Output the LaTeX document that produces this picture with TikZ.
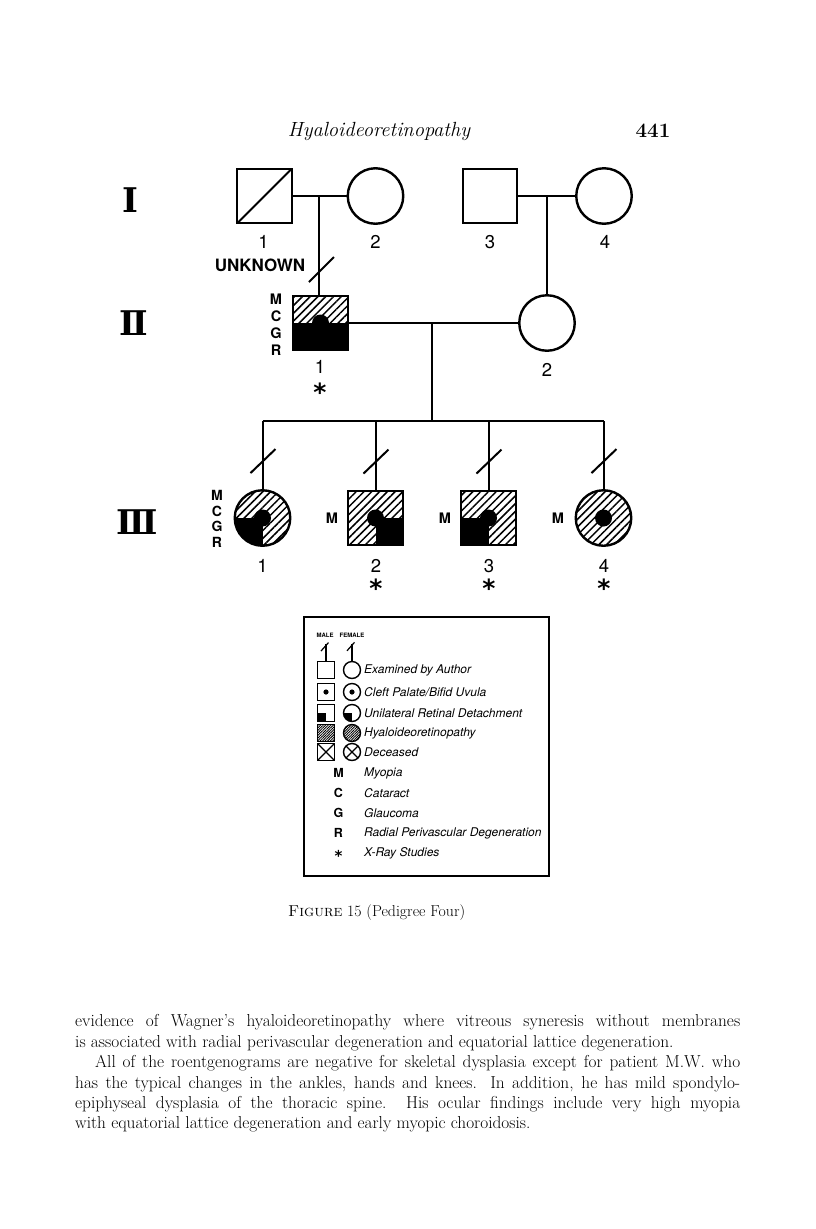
\documentclass[tikz,border=0pt]{standalone}
\usepackage{fontspec}
\setsansfont{TeX Gyre Heros}
\newfontfamily\numfont{DejaVu Serif}
\newfontfamily\starfont{DejaVu Sans}
\usetikzlibrary{patterns.meta,calc,positioning}

% pieces drawn inside a symbol
\newcommand{\hatchpp}{\fill[pattern={Lines[angle=45, distance=5.5pt, line width=1.5pt]}]
  (path picture bounding box.south west) rectangle (path picture bounding box.north east);}
\newcommand{\dotpp}{\fill[black] (path picture bounding box.center) circle (8.5pt);}
\newcommand{\halfpp}{\fill[black] (path picture bounding box.west) rectangle (path picture bounding box.south east);}
\newcommand{\leftpp}{\fill[black] (path picture bounding box.center) rectangle (path picture bounding box.south west);}
\newcommand{\rightpp}{\fill[black] (path picture bounding box.center) rectangle (path picture bounding box.south east);}

\tikzset{
  male/.style={draw, line width=2.4pt, minimum size=54.5pt, inner sep=0pt},
  female/.style={draw, circle, line width=2.4pt, minimum size=55.5pt, inner sep=0pt},
  hatch/.style={path picture={\hatchpp #1}},
  hatch/.default={},
  deadline/.style={path picture={\draw[line width=2pt] (path picture bounding box.south west) -- (path picture bounding box.north east);}},
  pedline/.style={line width=2pt},
  pednum/.style={font=\sffamily\fontsize{18.5}{18.5}\selectfont, inner sep=0pt},
  trait/.style={font=\sffamily\bfseries\fontsize{14.5}{17}\selectfont, inner sep=0pt, align=center},
  star/.style={font=\starfont\bfseries\fontsize{25}{25}\selectfont, inner sep=0pt},
  genno/.style={font=\numfont\bfseries\fontsize{34}{34}\selectfont, inner sep=0pt},
  % legend
  lmale/.style={draw, line width=1.4pt, minimum size=16.5pt, inner sep=0pt},
  lfemale/.style={draw, circle, line width=1.4pt, minimum size=17pt, inner sep=0pt},
  ldot/.style={path picture={\fill (path picture bounding box.center) circle (2.6pt);}},
  lquad/.style={path picture={\fill (path picture bounding box.center) rectangle (path picture bounding box.south west);}},
  lhatch/.style={pattern={Lines[angle=45, distance=1.8pt, line width=0.9pt]}},
  lcross/.style={path picture={\draw[line width=1.2pt] (path picture bounding box.south west) -- (path picture bounding box.north east)
      (path picture bounding box.north west) -- (path picture bounding box.south east);}},
  ltext/.style={font=\sffamily\itshape\fontsize{12}{12}\selectfont, anchor=west, inner sep=0pt},
  lkey/.style={font=\sffamily\bfseries\fontsize{12.5}{12.5}\selectfont, inner sep=0pt},
}

\begin{document}
\begin{tikzpicture}[x=1pt, y=-1pt]
\useasboundingbox (0,0) rectangle (816,1229);
%Running head
\node[font=\itshape\fontsize{20.5}{22}\selectfont] (head) at (379,131) {Hyaloideoretinopathy};
\node[font=\bfseries\fontsize{20.5}{22}\selectfont] (page) at (653,131) {441};

%Generations
\node[genno] (genI) at (130,200) {I};
\node[genno] (genII) at (134,323) {Ⅱ};
\node[genno] (genIII) at (137,522) {Ⅲ};

\node[male, deadline] (I1) at (264.5,196) {};
\node[female] (I2) at (375.5,196) {};
\node[male] (I3) at (490,196) {};
\node[female] (I4) at (604,196) {};

\node[male, hatch={\halfpp\dotpp}] (II1) at (320.5,323) {};
\node[female] (II2) at (547,323) {};

\node[female, hatch={\leftpp\dotpp}] (III1) at (262.5,518) {};
\node[male, hatch={\rightpp\dotpp}] (III2) at (375.5,518) {};
\node[male, hatch={\leftpp\dotpp}] (III3) at (488.5,518) {};
\node[female, hatch={\dotpp}] (III4) at (603.5,518) {};

%Lines of descent
\coordinate (m1) at (319,196);
\coordinate (m2) at (547,196);
\coordinate (m3) at (432,323);
\coordinate (sib) at (432,421);
\draw[pedline] (I1) -- (I2);
\draw[pedline] (I3) -- (I4);
\draw[pedline] (II1) -- (II2);
\draw[pedline] (m1) -- (m1 |- II1.north);
\draw[pedline] (m2) -- (II2);
\draw[pedline] ($(II1.north)+(-11.5,-12.5)$) -- ($(II1.north)+(13.5,-37.5)$);
\draw[pedline] (m3) -- (sib);
\draw[pedline] (III1 |- sib) -- (III4 |- sib);
\foreach \c in {III1,III2,III3,III4} {
  \draw[pedline] (\c |- sib) -- (\c);
  \draw[pedline] ($(\c.north)+(-12,-16)$) -- ($(\c.north)+(13,-40)$);
}

%Text
\node[pednum] (nI1) at (263.5,242) {1};
\node[pednum] (nI2) at (375.5,242) {2};
\node[pednum] (nI3) at (490,242) {3};
\node[pednum] (nI4) at (605,242) {4};
\node[font=\sffamily\bfseries\fontsize{17}{17}\selectfont, inner sep=0pt] (unknown) at (260,265) {UNKNOWN};
\node[trait] (tII1) at (276,325) {M\\C\\G\\R};
\node[pednum] (nII1) at (320,367) {1};
\node[star] (sII1) at (320,392) {*};
\node[pednum] (nII2) at (547,370) {2};

\node[trait, font=\sffamily\bfseries\fontsize{14}{15.5}\selectfont] (tIII1) at (217,519) {M\\C\\G\\R};
\node[trait] (tIII2) at (332,518) {M};
\node[trait] (tIII3) at (445,518) {M};
\node[trait] (tIII4) at (558,518) {M};
\node[pednum] (nIII1) at (262.5,566) {1};
\node[pednum] (nIII2) at (376,566) {2};
\node[pednum] (nIII3) at (489,566) {3};
\node[pednum] (nIII4) at (604,566) {4};
\node[star] (sIII2) at (376,588) {*};
\node[star] (sIII3) at (489,588) {*};
\node[star] (sIII4) at (604,588) {*};

%Legend
\node[draw, line width=1.2pt, minimum width=245pt, minimum height=259pt, inner sep=0pt] (legend) at (426.5,746.5) {};
\node[font=\sffamily\bfseries\fontsize{6}{6}\selectfont, inner sep=0pt] (lgmale) at (325,635) {MALE};
\node[font=\sffamily\bfseries\fontsize{6}{6}\selectfont, inner sep=0pt] (lgfemale) at (352,635) {FEMALE};
\node[lmale] (lgM1) at (326,670) {};
\node[lfemale] (lgF1) at (352,670) {};
\node[ltext] (lgT1) at (364,670) {Examined by Author};
\node[lmale, ldot] (lgM2) at (326,692) {};
\node[lfemale, ldot] (lgF2) at (352,692) {};
\node[ltext] (lgT2) at (364,692) {Cleft Palate/Bifid Uvula};
\node[lmale, lquad] (lgM3) at (326,713) {};
\node[lfemale, lquad] (lgF3) at (352,713) {};
\node[ltext] (lgT3) at (364,713) {Unilateral Retinal Detachment};
\node[lmale, lhatch] (lgM4) at (326,733) {};
\node[lfemale, lhatch] (lgF4) at (352,733) {};
\node[ltext] (lgT4) at (364,733) {Hyaloideoretinopathy};
\node[lmale, lcross] (lgM5) at (326,752) {};
\node[lfemale, lcross] (lgF5) at (352,752) {};
\node[ltext] (lgT5) at (364,752) {Deceased};
\draw[line width=1.2pt] (lgM1.north) -- ++(0,-17);
\draw[line width=1.2pt] ($(lgM1.north)+(-5,-10)$) -- ($(lgM1.north)+(2.5,-18.5)$);
\draw[line width=1.2pt] (lgF1.north) -- ++(0,-17);
\draw[line width=1.2pt] ($(lgF1.north)+(-5,-10)$) -- ($(lgF1.north)+(2.5,-18.5)$);
\node[lkey] (lgkM) at (338.5,773) {M};
\node[ltext] (lgtM) at (364,773) {Myopia};
\node[lkey] (lgkC) at (338.5,793) {C};
\node[ltext] (lgtC) at (364,793) {Cataract};
\node[lkey] (lgkG) at (338.5,813) {G};
\node[ltext] (lgtG) at (364,813) {Glaucoma};
\node[lkey] (lgkR) at (338.5,833) {R};
\node[ltext] (lgtR) at (364,833) {Radial Perivascular Degeneration};
\node[star, font=\starfont\bfseries\fontsize{15}{15}\selectfont] (lgkS) at (338.5,856) {*};
\node[ltext] (lgtS) at (364,853) {X-Ray Studies};

%Caption and body
\node[font=\fontsize{15.8}{17}\selectfont, anchor=west, inner sep=0pt] (caption) at (288,913) {\textsc{Figure} 15 (Pedigree Four)};
\node[anchor=north west, inner sep=0pt, text width=665pt, align=justify, font=\fontsize{17.3}{20.4}\selectfont] (body) at (75,1014.5) {\parindent=0pt
evidence of Wagner’s hyaloideoretinopathy where vitreous syneresis without membranes\linebreak
is associated with radial perivascular degeneration and equatorial lattice degeneration.\par
\hspace*{20pt}All of the roentgenograms are negative for skeletal dysplasia except for patient M.W. who\linebreak
has the typical changes in the ankles, hands and knees.  In addition, he has mild spondylo-\linebreak
epiphyseal dysplasia of the thoracic spine.  His ocular findings include very high myopia\linebreak
with equatorial lattice degeneration and early myopic choroidosis.};
\end{tikzpicture}
\end{document}
